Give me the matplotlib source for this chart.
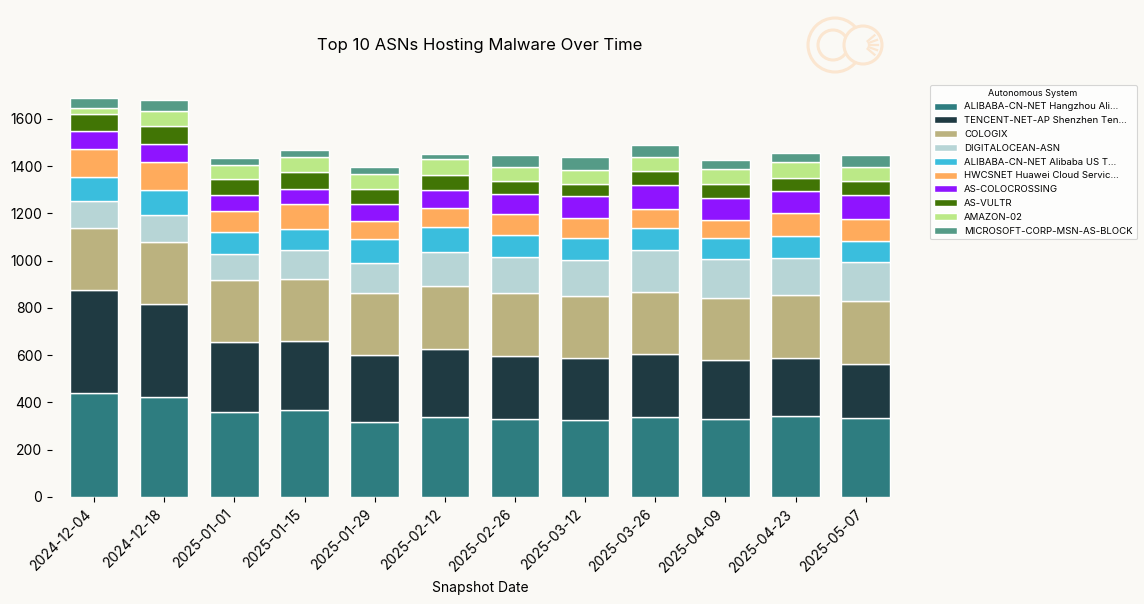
"""Top 10 ASNs hosting malware, stacked bars per snapshot date."""

import matplotlib

matplotlib.use("Agg")

import matplotlib.pyplot as plt
import numpy as np
from matplotlib.patches import Circle

plt.rcParams["font.family"] = ["Inter", "DejaVu Sans"]

snapshot_dates = [
    "2024-12-04", "2024-12-18", "2025-01-01", "2025-01-15",
    "2025-01-29", "2025-02-12", "2025-02-26", "2025-03-12",
    "2025-03-26", "2025-04-09", "2025-04-23", "2025-05-07",
]

asn_names = [
    "ALIBABA-CN-NET Hangzhou Ali...",
    "TENCENT-NET-AP Shenzhen Ten...",
    "COLOGIX",
    "DIGITALOCEAN-ASN",
    "ALIBABA-CN-NET Alibaba US T...",
    "HWCSNET Huawei Cloud Servic...",
    "AS-COLOCROSSING",
    "AS-VULTR",
    "AMAZON-02",
    "MICROSOFT-CORP-MSN-AS-BLOCK",
]

alibaba_hz = [439, 422, 358, 367, 316, 337, 329, 325, 339, 329, 342, 333]
tencent = [436, 394, 297, 292, 284, 288, 269, 262, 265, 250, 245, 229]
cologix = [262, 262, 262, 262, 262, 267, 264, 263, 262, 262, 267, 266]
digitalocean = [115, 114, 110, 123, 127, 144, 153, 152, 178, 166, 158, 165]
alibaba_us = [101, 106, 93, 89, 102, 106, 93, 93, 93, 88, 92, 89]
hwcsnet = [119, 119, 89, 106, 76, 80, 89, 85, 81, 77, 98, 94]
colocrossing = [76, 76, 68, 63, 72, 76, 84, 93, 101, 92, 92, 101]
vultr = [72, 76, 68, 72, 63, 64, 55, 51, 60, 60, 55, 59]
amazon = [25, 64, 59, 64, 64, 68, 60, 59, 59, 64, 68, 60]
microsoft = [43, 46, 30, 30, 30, 21, 50, 55, 51, 37, 38, 50]

series = [
    alibaba_hz, tencent, cologix, digitalocean, alibaba_us,
    hwcsnet, colocrossing, vultr, amazon, microsoft,
]

colors = [
    "#2e7d80", "#1f3a42", "#bbb27f", "#b7d5d6", "#3abedd",
    "#ffab5c", "#8f14ff", "#417505", "#bbe987", "#559b87",
]

background = "#faf9f5"

figure = plt.figure(figsize=(11.44, 6.04), dpi=100, facecolor=background)
axes = figure.add_axes([0.0455, 0.1772, 0.748, 0.6937])
axes.set_facecolor(background)

positions = np.arange(len(snapshot_dates))
bottom = np.zeros(len(snapshot_dates))

for name, values, color in zip(asn_names, series, colors):
    axes.bar(
        positions,
        values,
        width=0.69,
        bottom=bottom,
        color=color,
        edgecolor="white",
        linewidth=1.0,
        label=name,
    )
    bottom += np.array(values)

axes.set_xlim(-0.6, len(snapshot_dates) - 0.4)
axes.set_ylim(0, bottom.max() * 1.05)

axes.set_xticks(positions, snapshot_dates, rotation=45, ha="right")
axes.set_yticks([0, 200, 400, 600, 800, 1000, 1200, 1400, 1600])
axes.tick_params(labelsize=10)
axes.set_xlabel("Snapshot Date", fontsize=10)

for spine in axes.spines.values():
    spine.set_visible(False)

axes.set_title(
    "Top 10 ASNs Hosting Malware Over Time",
    fontsize=12,
    pad=20,
)

legend = axes.legend(
    title="Autonomous System",
    loc="upper left",
    bbox_to_anchor=(1.02, 0.995),
    fontsize=6.9,
    title_fontsize=6.5,
    frameon=True,
    facecolor="white",
    edgecolor="#cccccc",
    handlelength=2.4,
    handleheight=0.75,
    labelspacing=0.5,
)
legend.get_frame().set_linewidth(0.8)

# faint logo in the top area (1 data unit = 1 pixel)
logo = figure.add_axes([805 / 1144, 524 / 604, 90 / 1144, 70 / 604])
logo.set_xlim(0, 90)
logo.set_ylim(0, 70)
logo.axis("off")
peach = "#fbe6d0"
logo.add_patch(Circle((30, 35), 27, fill=False, edgecolor=peach, linewidth=2.2))
logo.add_patch(Circle((28, 35), 15, fill=False, edgecolor=peach, linewidth=2.2))
logo.add_patch(
    Circle((58, 35), 19, facecolor=background, edgecolor=peach, linewidth=2.2)
)
for angle in [-40, -20, 0, 20, 40]:
    rad = np.deg2rad(angle)
    logo.plot(
        [58 + 6 * np.cos(rad), 58 + 15 * np.cos(rad)],
        [35 + 6 * np.sin(rad), 35 + 15 * np.sin(rad)],
        color=peach,
        linewidth=1.6,
    )

figure.savefig("out.png", dpi=100, facecolor=background)
